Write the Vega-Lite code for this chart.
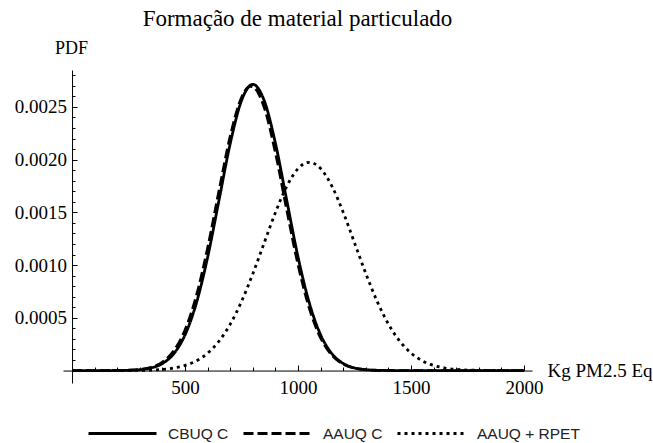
{
  "$schema": "https://vega.github.io/schema/vega-lite/v6.json",
  "width": 469,
  "height": 313,
  "autosize": {"type": "none"},
  "padding": {"left": 63, "top": 70, "right": 121, "bottom": 60},
  "background": "white",
  "title": {
    "text": "Formação de material particulado",
    "font": "Liberation Serif",
    "fontSize": 23,
    "fontWeight": "normal",
    "color": "black",
    "anchor": "middle",
    "frame": "group",
    "offset": 8
  },
  "config": {
    "view": {"stroke": null},
    "font": "Liberation Serif",
    "axis": {
      "grid": false,
      "domainColor": "black",
      "tickColor": "black",
      "tickWidth": 1,
      "tickOpacity": 1,
      "labelColor": "black",
      "titleColor": "black",
      "labelFlush": false,
      "labelOverlap": false
    }
  },
  "data": {
    "values": [
      {"s": "CBUQ C", "x": 0, "y": 0},
      {"s": "CBUQ C", "x": 50, "y": 0},
      {"s": "CBUQ C", "x": 100, "y": 3.2e-8},
      {"s": "CBUQ C", "x": 150, "y": 1.5e-7},
      {"s": "CBUQ C", "x": 200, "y": 6.5e-7},
      {"s": "CBUQ C", "x": 250, "y": 2.5e-6},
      {"s": "CBUQ C", "x": 300, "y": 8.4e-6},
      {"s": "CBUQ C", "x": 350, "y": 2.5e-5},
      {"s": "CBUQ C", "x": 400, "y": 6.7e-5},
      {"s": "CBUQ C", "x": 450, "y": 1.593e-4},
      {"s": "CBUQ C", "x": 500, "y": 3.382e-4},
      {"s": "CBUQ C", "x": 550, "y": 6.39e-4},
      {"s": "CBUQ C", "x": 600, "y": 1.075e-3},
      {"s": "CBUQ C", "x": 650, "y": 1.613e-3},
      {"s": "CBUQ C", "x": 700, "y": 2.154e-3},
      {"s": "CBUQ C", "x": 750, "y": 2.561e-3},
      {"s": "CBUQ C", "x": 800, "y": 2.714e-3},
      {"s": "CBUQ C", "x": 850, "y": 2.561e-3},
      {"s": "CBUQ C", "x": 900, "y": 2.154e-3},
      {"s": "CBUQ C", "x": 950, "y": 1.613e-3},
      {"s": "CBUQ C", "x": 1000, "y": 1.075e-3},
      {"s": "CBUQ C", "x": 1050, "y": 6.39e-4},
      {"s": "CBUQ C", "x": 1100, "y": 3.382e-4},
      {"s": "CBUQ C", "x": 1150, "y": 1.593e-4},
      {"s": "CBUQ C", "x": 1200, "y": 6.7e-5},
      {"s": "CBUQ C", "x": 1250, "y": 2.5e-5},
      {"s": "CBUQ C", "x": 1300, "y": 8.4e-6},
      {"s": "CBUQ C", "x": 1350, "y": 2.5e-6},
      {"s": "CBUQ C", "x": 1400, "y": 6.5e-7},
      {"s": "CBUQ C", "x": 1450, "y": 1.5e-7},
      {"s": "CBUQ C", "x": 1500, "y": 0},
      {"s": "CBUQ C", "x": 1600, "y": 0},
      {"s": "CBUQ C", "x": 1700, "y": 0},
      {"s": "CBUQ C", "x": 1800, "y": 0},
      {"s": "CBUQ C", "x": 1900, "y": 0},
      {"s": "CBUQ C", "x": 2000, "y": 0},
      {"s": "AAUQ C", "x": 0, "y": 0},
      {"s": "AAUQ C", "x": 100, "y": 4.8e-8},
      {"s": "AAUQ C", "x": 200, "y": 9e-7},
      {"s": "AAUQ C", "x": 250, "y": 3.3e-6},
      {"s": "AAUQ C", "x": 300, "y": 1.07e-5},
      {"s": "AAUQ C", "x": 350, "y": 3.12e-5},
      {"s": "AAUQ C", "x": 400, "y": 8.08e-5},
      {"s": "AAUQ C", "x": 450, "y": 1.868e-4},
      {"s": "AAUQ C", "x": 500, "y": 3.85e-4},
      {"s": "AAUQ C", "x": 550, "y": 7.08e-4},
      {"s": "AAUQ C", "x": 600, "y": 1.1625e-3},
      {"s": "AAUQ C", "x": 650, "y": 1.7014e-3},
      {"s": "AAUQ C", "x": 700, "y": 2.2223e-3},
      {"s": "AAUQ C", "x": 750, "y": 2.5896e-3},
      {"s": "AAUQ C", "x": 790, "y": 2.6958e-3},
      {"s": "AAUQ C", "x": 800, "y": 2.692e-3},
      {"s": "AAUQ C", "x": 850, "y": 2.4968e-3},
      {"s": "AAUQ C", "x": 900, "y": 2.066e-3},
      {"s": "AAUQ C", "x": 950, "y": 1.525e-3},
      {"s": "AAUQ C", "x": 1000, "y": 1.004e-3},
      {"s": "AAUQ C", "x": 1050, "y": 5.9e-4},
      {"s": "AAUQ C", "x": 1100, "y": 3.09e-4},
      {"s": "AAUQ C", "x": 1150, "y": 1.446e-4},
      {"s": "AAUQ C", "x": 1200, "y": 6.03e-5},
      {"s": "AAUQ C", "x": 1250, "y": 2.25e-5},
      {"s": "AAUQ C", "x": 1300, "y": 7.5e-6},
      {"s": "AAUQ C", "x": 1350, "y": 2.2e-6},
      {"s": "AAUQ C", "x": 1400, "y": 5.8e-7},
      {"s": "AAUQ C", "x": 1500, "y": 0},
      {"s": "AAUQ C", "x": 1600, "y": 0},
      {"s": "AAUQ C", "x": 1800, "y": 0},
      {"s": "AAUQ C", "x": 2000, "y": 0},
      {"s": "AAUQ + RPET", "x": 0, "y": 0},
      {"s": "AAUQ + RPET", "x": 100, "y": 3.1e-8},
      {"s": "AAUQ + RPET", "x": 200, "y": 2.8e-7},
      {"s": "AAUQ + RPET", "x": 300, "y": 2.0e-6},
      {"s": "AAUQ + RPET", "x": 350, "y": 4.9e-6},
      {"s": "AAUQ + RPET", "x": 400, "y": 1.11e-5},
      {"s": "AAUQ + RPET", "x": 450, "y": 2.4e-5},
      {"s": "AAUQ + RPET", "x": 500, "y": 4.85e-5},
      {"s": "AAUQ + RPET", "x": 550, "y": 9.23e-5},
      {"s": "AAUQ + RPET", "x": 600, "y": 1.653e-4},
      {"s": "AAUQ + RPET", "x": 650, "y": 2.779e-4},
      {"s": "AAUQ + RPET", "x": 700, "y": 4.4e-4},
      {"s": "AAUQ + RPET", "x": 750, "y": 6.557e-4},
      {"s": "AAUQ + RPET", "x": 800, "y": 9.184e-4},
      {"s": "AAUQ + RPET", "x": 850, "y": 1.2099e-3},
      {"s": "AAUQ + RPET", "x": 900, "y": 1.499e-3},
      {"s": "AAUQ + RPET", "x": 950, "y": 1.7473e-3},
      {"s": "AAUQ + RPET", "x": 1000, "y": 1.9154e-3},
      {"s": "AAUQ + RPET", "x": 1050, "y": 1.975e-3},
      {"s": "AAUQ + RPET", "x": 1100, "y": 1.9154e-3},
      {"s": "AAUQ + RPET", "x": 1150, "y": 1.7473e-3},
      {"s": "AAUQ + RPET", "x": 1200, "y": 1.499e-3},
      {"s": "AAUQ + RPET", "x": 1250, "y": 1.2099e-3},
      {"s": "AAUQ + RPET", "x": 1300, "y": 9.184e-4},
      {"s": "AAUQ + RPET", "x": 1350, "y": 6.557e-4},
      {"s": "AAUQ + RPET", "x": 1400, "y": 4.4e-4},
      {"s": "AAUQ + RPET", "x": 1450, "y": 2.779e-4},
      {"s": "AAUQ + RPET", "x": 1500, "y": 1.653e-4},
      {"s": "AAUQ + RPET", "x": 1550, "y": 9.23e-5},
      {"s": "AAUQ + RPET", "x": 1600, "y": 4.85e-5},
      {"s": "AAUQ + RPET", "x": 1650, "y": 2.4e-5},
      {"s": "AAUQ + RPET", "x": 1700, "y": 1.11e-5},
      {"s": "AAUQ + RPET", "x": 1750, "y": 4.9e-6},
      {"s": "AAUQ + RPET", "x": 1800, "y": 2.0e-6},
      {"s": "AAUQ + RPET", "x": 1900, "y": 2.8e-7},
      {"s": "AAUQ + RPET", "x": 2000, "y": 3.1e-8}
    ]
  },
  "layer": [
    {
      "mark": {"type": "line", "interpolate": "monotone", "strokeWidth": 2.8, "color": "black"},
      "encoding": {
        "x": {
          "field": "x", "type": "quantitative",
          "scale": {"domain": [-40, 2035], "nice": false, "zero": false},
          "axis": {
            "orient": "top", "values": [500, 1000, 1500, 2000], "format": "d",
            "tickSize": 5.5, "offset": -300.56, "domainWidth": 1,
            "labelFont": "Liberation Serif", "labelFontSize": 19, "labelPadding": -13,
            "labelBaseline": "top",
            "title": "Kg PM2.5 Eq", "titleFont": "Liberation Serif", "titleFontSize": 19,
            "titleFontWeight": "normal", "titleAlign": "left", "titleBaseline": "alphabetic",
            "titleX": 484, "titleY": 5.5
          }
        },
        "y": {
          "field": "y", "type": "quantitative",
          "scale": {"domain": [-0.000118, 0.00285], "nice": false, "zero": false},
          "axis": {
            "orient": "right", "values": [0.0005, 0.001, 0.0015, 0.002, 0.0025], "format": ".4f",
            "tickSize": 5, "offset": -459.96, "domainWidth": 1,
            "labelFont": "Liberation Serif", "labelFontSize": 19, "labelPadding": -10.5,
            "labelAlign": "right", "labelBaseline": "middle",
            "title": "PDF", "titleFont": "Liberation Serif", "titleFontSize": 18,
            "titleFontWeight": "normal", "titleAngle": 0, "titleAlign": "center",
            "titleBaseline": "alphabetic", "titleX": -1, "titleY": -17
          }
        },
        "strokeDash": {
          "field": "s", "type": "nominal",
          "scale": {"domain": ["CBUQ C", "AAUQ C", "AAUQ + RPET"], "range": [[1, 0], [10, 4], [3, 4]]},
          "legend": {
            "orient": "none", "legendX": 24, "legendY": 328, "direction": "horizontal",
            "title": null, "padding": 0, "symbolType": "stroke", "symbolSize": 4624,
            "symbolStrokeWidth": 3, "symbolStrokeColor": "black",
            "labelFont": "Liberation Sans", "labelFontSize": 15.5, "labelColor": "#222",
            "labelOffset": 10, "columnPadding": 8
          }
        }
      }
    },
    {
      "mark": {"type": "line", "opacity": 0},
      "encoding": {
        "x": {
          "field": "x", "type": "quantitative",
          "scale": {"domain": [-40, 2035], "nice": false, "zero": false},
          "axis": {
            "orient": "top", "values": [100, 200, 300, 400, 600, 700, 800, 900, 1100, 1200, 1300, 1400, 1600, 1700, 1800, 1900],
            "labels": false, "domain": false, "ticks": true, "tickSize": 3.5, "offset": -300.56, "title": null
          }
        },
        "y": {
          "field": "y", "type": "quantitative",
          "scale": {"domain": [-0.000118, 0.00285], "nice": false, "zero": false},
          "axis": {
            "orient": "right", "values": [0.0001, 0.0002, 0.0003, 0.0004, 0.0006, 0.0007, 0.0008, 0.0009, 0.0011, 0.0012, 0.0013, 0.0014, 0.0016, 0.0017, 0.0018, 0.0019, 0.0021, 0.0022, 0.0023, 0.0024, 0.0026, 0.0027, 0.0028],
            "labels": false, "domain": false, "ticks": true, "tickSize": 3, "offset": -459.96, "title": null
          }
        }
      }
    }
  ],
  "resolve": {"axis": {"x": "independent", "y": "independent"}}
}
